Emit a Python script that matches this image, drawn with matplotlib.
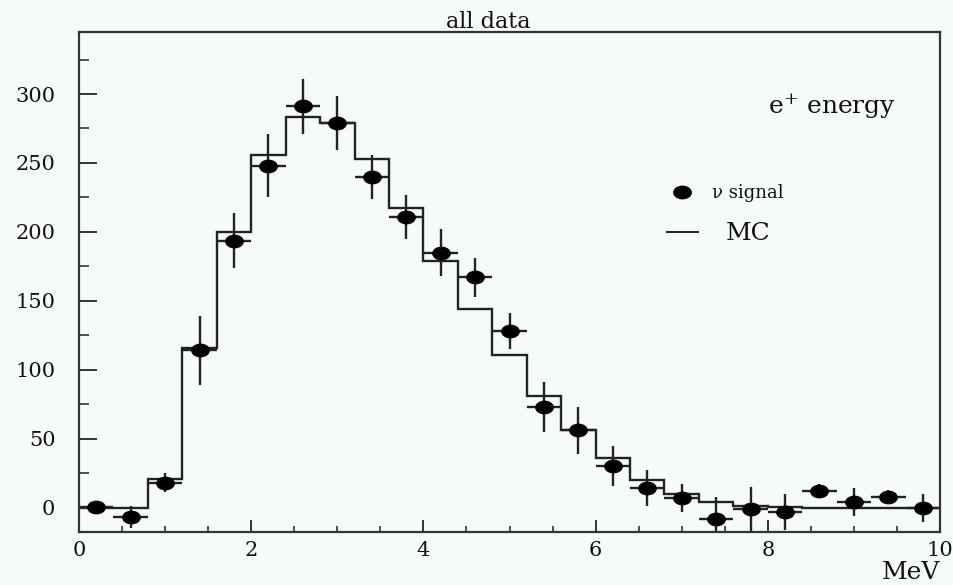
import numpy as np
import matplotlib
matplotlib.use("Agg")
import matplotlib.pyplot as plt
from matplotlib.path import Path
from matplotlib.transforms import Affine2D

# ---- data ----
bin_edges = np.arange(0, 10.01, 0.4)
bin_centers = (bin_edges[:-1] + bin_edges[1:]) / 2
signal = [0.7, -7, 18, 114, 193.5, 248, 291, 279, 239.5, 211, 185, 167, 128,
          73, 56, 30, 14, 7, -8, -1, -3, 12, 4, 8, -0.5]
signal_err = [3, 8, 7, 25, 20, 23, 20, 19.5, 16, 16, 17, 14, 13,
              18, 17, 14.5, 13, 10, 15.5, 16, 13, 5, 10, 5, 10]
mc = [0, 0, 20.6, 116, 200, 256, 283, 279, 253, 217, 179, 144, 111,
      81, 56, 36, 20, 10, 4, 1.5, 0.5, 0, 0, 0, 0]
title = "all data"
xlabel = "MeV"
annotation = r"e$^{+}$ energy"
legend_signal = "ν signal"
legend_mc = "MC"

W, H = 954, 585
fig = plt.figure(figsize=(W / 100, H / 100), dpi=100)
bg = "#f6faf8"
fig.patch.set_facecolor(bg)
L, R, B, T = 79, 940, 531.7, 32
ax = fig.add_axes([L / W, 1 - B / H, (R - L) / W, (B - T) / H])
ax.set_facecolor(bg)

serif = ["DejaVu Serif", "Liberation Serif"]
plt.rcParams["mathtext.fontset"] = "dejavuserif"
ink = "#111111"

# ellipse marker
ell = Path.unit_circle().transformed(Affine2D().scale(1.4, 1.0))

# MC histogram
ax.stairs(mc, bin_edges, color="#222222", linewidth=1.7, baseline=None)

# data points
half_w = np.diff(bin_edges) / 2
ax.errorbar(bin_centers, signal, yerr=signal_err, xerr=half_w, fmt="none",
            ecolor="#222222", elinewidth=1.7, capsize=0)
ax.plot(bin_centers, signal, linestyle="none", marker=ell, markersize=12.5,
        color="black")

ax.set_xlim(0, 10)
ax.set_ylim(-17.5, 345)
ax.set_xticks([0, 2, 4, 6, 8, 10])
ax.set_xticks(np.arange(0, 10.01, 0.5), minor=True)
ax.set_yticks(np.arange(0, 301, 50))
ax.set_yticks(np.arange(0, 340, 25), minor=True)

ax.tick_params(axis="both", which="both", direction="in", colors="#333333",
               top=False, right=False, labelcolor=ink)
ax.tick_params(axis="y", which="major", length=13, width=1.4, pad=17, labelsize=15)
ax.tick_params(axis="y", which="minor", length=7, width=1.2)
ax.tick_params(axis="x", which="major", length=9, width=1.4, pad=7, labelsize=15)
ax.tick_params(axis="x", which="minor", length=4.5, width=1.2)
for lab in ax.get_xticklabels() + ax.get_yticklabels():
    lab.set_family(serif)
for sp in ax.spines.values():
    sp.set_linewidth(1.6)
    sp.set_color("#333333")


def af(px, py):
    return ((px - L) / (R - L), (B - py) / (B - T))


fig.text(488 / W, 1 - 28 / H, title, ha="center", va="baseline",
         fontsize=16, family=serif, color=ink)
ax.text(*af(940, 579), xlabel, ha="right", va="baseline", transform=ax.transAxes,
        fontsize=18, family=serif, color=ink, clip_on=False)
ax.text(*af(832, 106), annotation, ha="center", va="center", transform=ax.transAxes,
        fontsize=18, family=serif, color=ink)
ax.plot(*af(682, 192), transform=ax.transAxes, marker=ell, markersize=12.5,
        color="black", linestyle="none")
ax.text(*af(712, 198), legend_signal, ha="left", va="baseline", transform=ax.transAxes,
        fontsize=13, family=serif, color=ink)
x0, y0 = af(667, 232)
x1, _ = af(698, 232)
ax.plot([x0, x1], [y0, y0], transform=ax.transAxes, color="#222222", linewidth=1.4)
ax.text(*af(726, 240), legend_mc, ha="left", va="baseline", transform=ax.transAxes,
        fontsize=18, family=serif, color=ink)

fig.savefig("out.png", dpi=100, facecolor=bg)
